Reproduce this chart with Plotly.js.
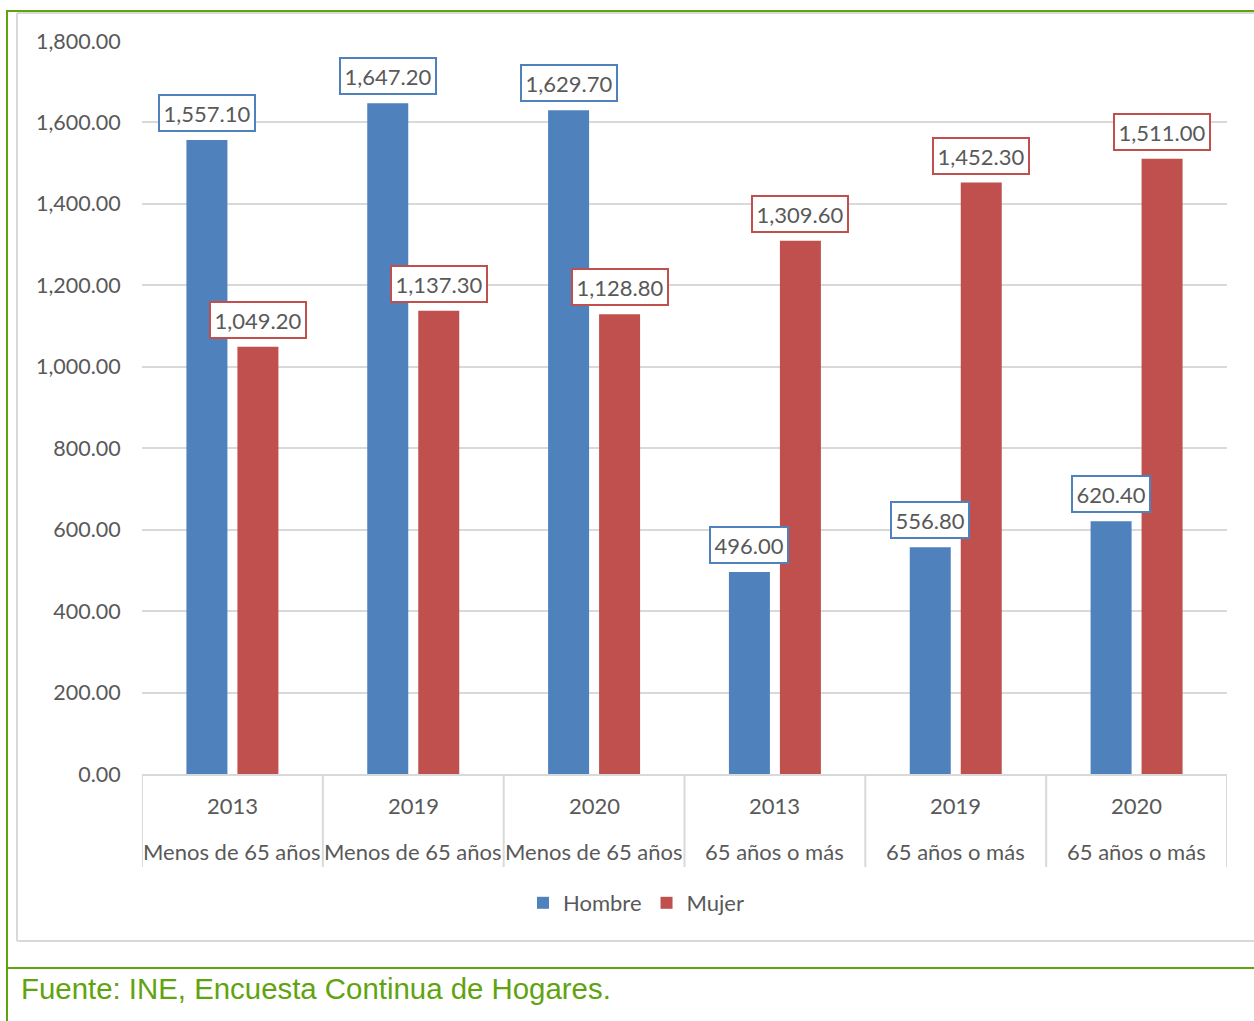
<!DOCTYPE html>
<html>
<head>
<meta charset="utf-8">
<script src="https://cdn.plot.ly/plotly-3.0.1.min.js"></script>
<style>html,body{margin:0;padding:0;background:#fff;}#chart{width:1254px;height:1021px;}</style>
</head>
<body>
<div id="chart"></div>
<script>
const years = ["2013", "2019", "2020", "2013", "2019", "2020"];
const groups = ["Menos de 65 años", "Menos de 65 años", "Menos de 65 años", "65 años o más", "65 años o más", "65 años o más"];
const hombre = [1557.10, 1647.20, 1629.70, 496.00, 556.80, 620.40];
const mujer = [1049.20, 1137.30, 1128.80, 1309.60, 1452.30, 1511.00];
const yTicks = [0, 200, 400, 600, 800, 1000, 1200, 1400, 1600, 1800];
const source = "Fuente: INE, Encuesta Continua de Hogares.";

const BLUE = "#4F81BD", RED = "#C0504D", GRAY = "#595959", GRID = "#D9D9D9", GREEN = "#5FA30F";
const FONT = "Lato, 'Open Sans', sans-serif";
const FS = 22;
const idx = years.map((_, i) => i);

const W = 1254, H = 1021, L = 142, R = 27, T = 41, B = 247;
const pw = W - L - R, ph = H - T - B;
const px = v => (v - L) / pw;
const py = v => (H - B - v) / ph;

const fmt = v => v.toLocaleString("en-US", {minimumFractionDigits: 2, maximumFractionDigits: 2});

const traces = [
  {type: "bar", name: "Hombre", x: idx, y: hombre, marker: {color: BLUE}, hoverinfo: "skip"},
  {type: "bar", name: "Mujer", x: idx, y: mujer, marker: {color: RED}, hoverinfo: "skip"}
];

const annotations = [];
idx.forEach(i => {
  [[hombre, BLUE, -25.5], [mujer, RED, 25.5]].forEach(([arr, col, sh]) => {
    annotations.push({
      x: i, y: arr[i], xref: "x", yref: "y", xshift: sh, yshift: 8,
      yanchor: "bottom", xanchor: "center", showarrow: false,
      text: fmt(arr[i]), font: {family: FONT, size: FS, color: GRAY},
      bgcolor: "#fff", bordercolor: col, borderwidth: 2, borderpad: 3.5
    });
  });
  annotations.push({x: i, y: 0, xref: "x", yref: "paper", yshift: -31, yanchor: "middle",
    showarrow: false, text: years[i], font: {family: FONT, size: FS, color: GRAY}});
  annotations.push({x: i, y: 0, xref: "x", yref: "paper", yshift: -77, yanchor: "middle",
    showarrow: false, text: groups[i], font: {family: FONT, size: FS, color: GRAY}});
});
annotations.push({x: px(19), y: py(988), xref: "paper", yref: "paper", xanchor: "left", yanchor: "middle",
  showarrow: false, text: source, font: {family: "'Liberation Sans', Arial, sans-serif", size: 29.4, color: GREEN}});

const shapes = [];
for (let k = 0; k <= idx.length; k++) {
  shapes.push({type: "line", xref: "x", yref: "paper", x0: k - 0.5, x1: k - 0.5, y0: 0, y1: py(867),
    line: {color: GRID, width: 2}});
}
// chart border (gray)
shapes.push({type: "line", xref: "paper", yref: "paper", x0: px(17), x1: px(17), y0: py(13), y1: py(941), line: {color: GRID, width: 2}});
shapes.push({type: "line", xref: "paper", yref: "paper", x0: px(17), x1: px(1256), y0: py(941), y1: py(941), line: {color: GRID, width: 2}});
shapes.push({type: "line", xref: "paper", yref: "paper", x0: px(17), x1: px(1256), y0: py(13), y1: py(13), line: {color: GRID, width: 2}});
// green frame
shapes.push({type: "line", xref: "paper", yref: "paper", x0: px(7), x1: px(1256), y0: py(11), y1: py(11), line: {color: GREEN, width: 2}});
shapes.push({type: "line", xref: "paper", yref: "paper", x0: px(7), x1: px(7), y0: py(10), y1: py(1022), line: {color: GREEN, width: 2}});
shapes.push({type: "line", xref: "paper", yref: "paper", x0: px(7), x1: px(1256), y0: py(968), y1: py(968), line: {color: GREEN, width: 2}});

const layout = {
  width: W, height: H,
  margin: {l: L, r: R, t: T, b: B},
  paper_bgcolor: "#fff", plot_bgcolor: "#fff",
  barmode: "group", bargap: 0.436, bargroupgap: 0.196,
  showlegend: true,
  legend: {orientation: "h", x: px(636), y: py(903), xanchor: "center", yanchor: "middle",
    font: {family: FONT, size: FS, color: GRAY}, itemwidth: 30},
  xaxis: {range: [-0.5, 5.5], showticklabels: false, showgrid: false, zeroline: false,
    showline: true, linecolor: GRID, linewidth: 2, ticks: "", fixedrange: true},
  yaxis: {range: [0, 1800], tickvals: yTicks, ticktext: yTicks.map(fmt),
    tickfont: {family: FONT, size: 21.5, color: GRAY},
    showgrid: true, gridcolor: GRID, gridwidth: 2, zeroline: false, showline: false,
    ticks: "outside", ticklen: 16, tickcolor: "rgba(0,0,0,0)"},
  annotations: annotations,
  shapes: shapes
};

Plotly.newPlot("chart", traces, layout, {displayModeBar: false, staticPlot: true});
</script>
</body>
</html>
